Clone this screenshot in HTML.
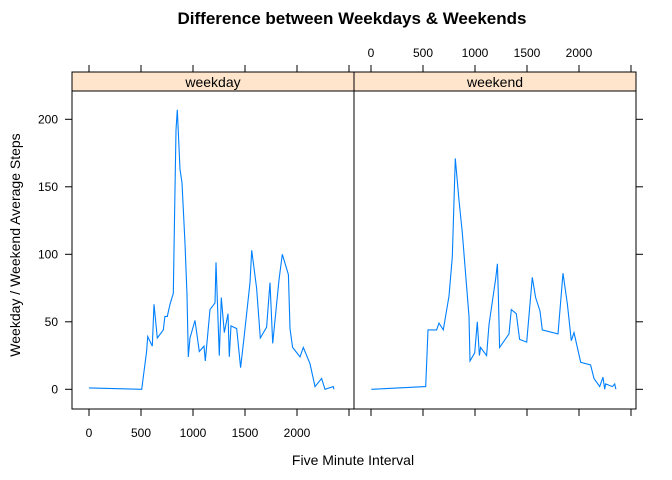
<!DOCTYPE html>
<html><head><meta charset="utf-8"><style>
body{margin:0;background:#fff}
svg{display:block;font-family:"Liberation Sans",Arial,sans-serif}
</style></head><body>
<svg id="chart" width="672" height="480" viewBox="0 0 672 480" xmlns="http://www.w3.org/2000/svg">
<rect width="672" height="480" fill="#fff"/>
<text x="352" y="24" text-anchor="middle" font-size="17" font-weight="bold">Difference between Weekdays &amp; Weekends</text>
<text x="353" y="465" text-anchor="middle" font-size="14">Five Minute Interval</text>
<text transform="translate(20,245) rotate(-90)" text-anchor="middle" font-size="14">Weekday / Weekend Average Steps</text>
<g id="g"></g>
</svg>
<script>
const panelNames = ["weekday", "weekend"];
const xTicks = [0, 500, 1000, 1500, 2000, 2500];
const xTickLabels = ["0", "500", "1000", "1500", "2000", ""];
const yTicks = [0, 50, 100, 150, 200];
const weekdayX = [0,507,554,564,609,625,657,714,730,753,779,811,824,837,849,875,894,923,942,955,971,1019,1061,1106,1118,1163,1212,1221,1253,1272,1301,1337,1349,1365,1420,1458,1490,1548,1564,1612,1647,1708,1740,1766,1827,1859,1917,1933,1958,2029,2061,2125,2173,2237,2269,2349,2355];
const weekdayY = [1,0,28,39,32,63,38,44,54,54,63,71,135,192,207,163,153,108,70,24,38,51,28,32,21,59,64,94,25,68,42,56,24,47,45,16,38,79,103,75,38,46,79,34,81,100,85,45,31,24,31,19,2,8,0,2,0];
const weekendX = [3,526,548,631,654,695,750,782,811,846,878,942,952,997,1022,1042,1054,1112,1135,1199,1215,1224,1237,1327,1349,1397,1429,1497,1551,1583,1625,1647,1798,1846,1888,1926,1952,2016,2112,2144,2199,2231,2247,2256,2321,2343,2355];
const weekendY = [0,2,44,44,49,44,69,98,171,140,116,54,21,27,50,25,31,25,48,82,93,71,31,41,59,56,37,35,83,68,58,44,41,86,63,36,42,20,18,8,2,9,0,4,2,4,0];

const NS = "http://www.w3.org/2000/svg";
const g = document.getElementById("g");
const panels = [{x0:72,x1:354},{x0:354,x1:636}];
const PT = 91, PB = 409, ST = 72;
function sx(p, v){ return panels[p].x0 + 17 + v*0.104; }
function sy(v){ return 389.3 - v*1.35; }
function el(tag, attrs){ const e=document.createElementNS(NS,tag); for(const k in attrs) e.setAttribute(k,attrs[k]); g.appendChild(e); return e; }
const series = [[weekdayX, weekdayY],[weekendX, weekendY]];
panels.forEach((pn, p) => {
  const strip = el("rect",{x:pn.x0,y:ST,width:pn.x1-pn.x0,height:PT-ST,fill:"#FFE5CC",stroke:"#000","stroke-width":1});
  
  
  const st = el("text",{x:(pn.x0+pn.x1)/2,y:87,"text-anchor":"middle","font-size":14});
  st.textContent = panelNames[p];
  
  
  const fr = el("rect",{x:pn.x0,y:PT,width:pn.x1-pn.x0,height:PB-PT,fill:"none",stroke:"#000","stroke-width":1});
  
  
  const pts = series[p][0].map((x,i)=> sx(p,x).toFixed(1)+","+sy(series[p][1][i]).toFixed(1)).join(" ");
  const line = el("polyline",{points:pts,fill:"none",stroke:"#0080ff","stroke-width":1.1});
  
  
  xTicks.forEach((t,i)=>{
    const x = sx(p,t);
    if (x > pn.x1) return;
    const tk = el("line",{x1:x,x2:x,y1:PB,y2:PB+7,stroke:"#000"});
    
    
    const tt = el("line",{x1:x,x2:x,y1:ST,y2:ST-7,stroke:"#000"});
    
    
    if (xTickLabels[i]) {
      const lb = el("text",{x:x,y:p===0?437:57,"text-anchor":"middle","font-size":12});
      lb.textContent = xTickLabels[i];
      
      
    }
  });
});
yTicks.forEach(t=>{
  const y = sy(t);
  const a = el("line",{x1:65,x2:72,y1:y,y2:y,stroke:"#000"});
  
  
  const b = el("line",{x1:636,x2:643,y1:y,y2:y,stroke:"#000"});
  
  
  const lb = el("text",{x:58,y:y+4,"text-anchor":"end","font-size":12});
  lb.textContent = t;
  
  
});
</script>
</body></html>
